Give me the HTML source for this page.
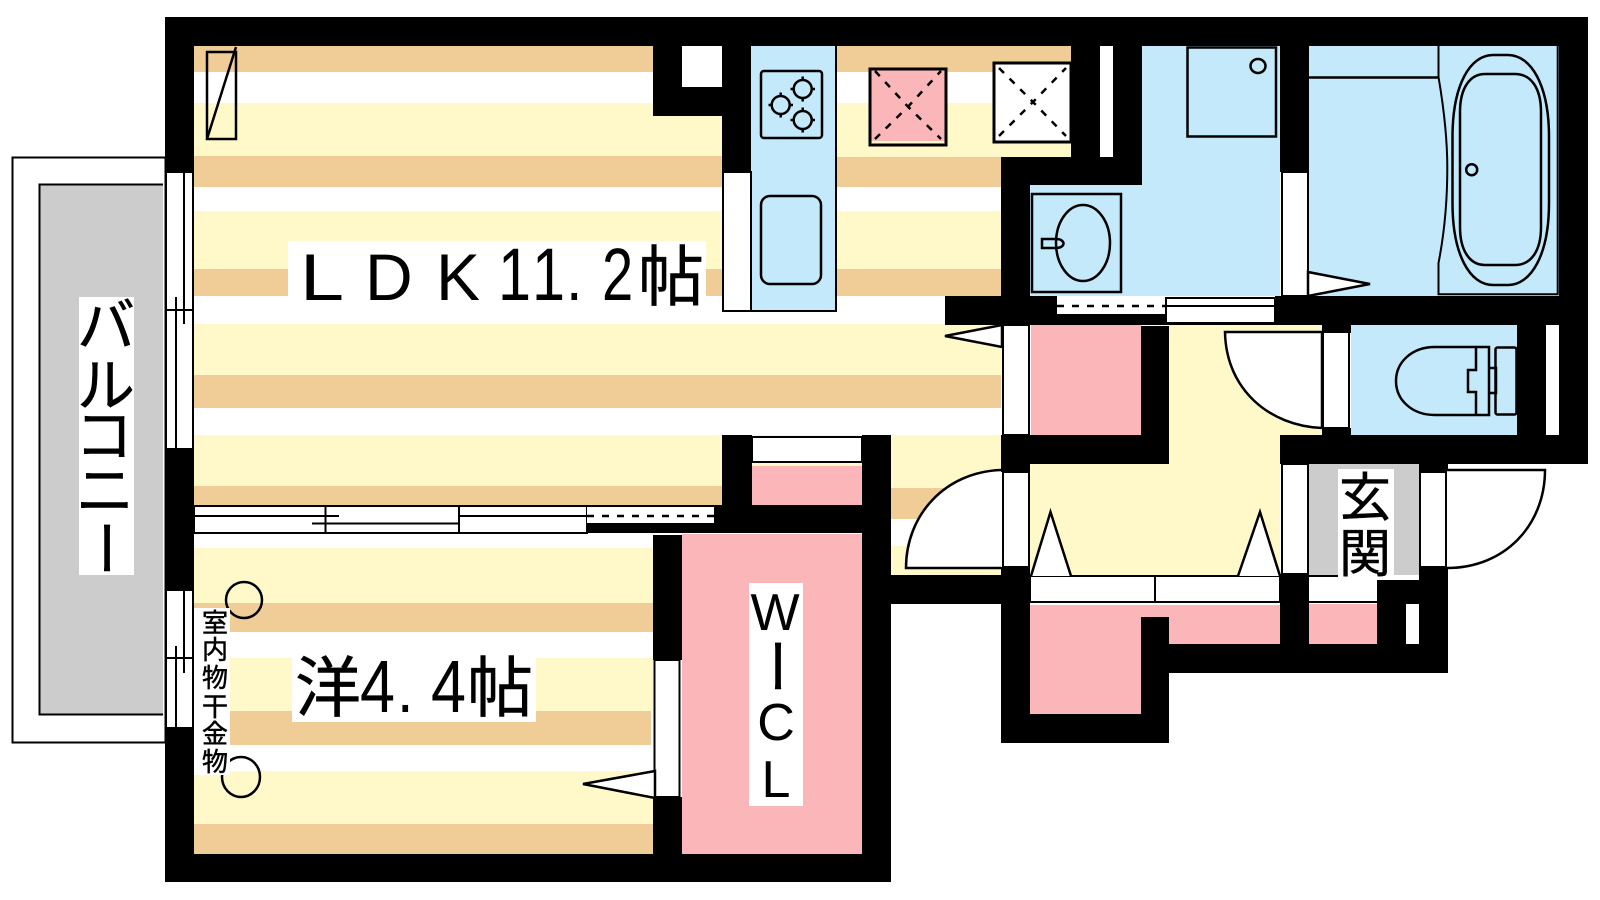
<!DOCTYPE html>
<html><head><meta charset="utf-8"><style>
html,body{margin:0;padding:0;background:#fff;width:1600px;height:900px;overflow:hidden}
svg{display:block}
text{font-family:"Liberation Sans","Noto Sans CJK JP",sans-serif;fill:#000}
.j{font-family:"Noto Sans CJK JP","Liberation Sans",sans-serif;stroke:#000;stroke-width:.5}
.l{stroke:#000;stroke-width:2;fill:none}
.w{stroke:#000;stroke-width:2;fill:#fff}
.n{stroke:#000;stroke-width:2.5;fill:none}
.d{stroke:#000;stroke-width:2.5;stroke-dasharray:7 8;fill:none}
.Y{fill:#fff9c9}.T{fill:#f0cc96}.B{fill:#c3e9fa}.P{fill:#fab6b8}.G{fill:#ccc}.K{fill:#000}.W{fill:#fff}
</style></head><body>
<svg width="1600" height="900" viewBox="0 0 1600 900" xmlns="http://www.w3.org/2000/svg">
<rect width="1600" height="900" fill="#fff"/>
<rect x="12.500" y="157.500" width="153" height="585" class="w"/>
<rect x="39" y="184" width="124" height="531" class="G"/>
<path d="M163 184.500H39.500V714.500H163" class="l"/>
<rect x="194" y="46" width="807" height="26" class="T"/>
<rect x="194" y="103" width="807" height="53" class="Y"/>
<rect x="194" y="156" width="807" height="31" class="T"/>
<rect x="194" y="211" width="807" height="58" class="Y"/>
<rect x="194" y="269" width="807" height="27" class="T"/>
<rect x="194" y="324" width="807" height="51" class="Y"/>
<rect x="194" y="375" width="807" height="33" class="T"/>
<rect x="194" y="435" width="807" height="51" class="Y"/>
<rect x="194" y="486" width="528" height="19" class="T"/>
<rect x="891" y="486" width="110" height="2" class="Y"/>
<rect x="891" y="488" width="110" height="31" class="T"/>
<rect x="891" y="546" width="110" height="29" class="Y"/>
<rect x="836" y="46" width="235" height="26" class="T"/>
<rect x="836" y="103" width="235" height="54" class="Y"/>
<rect x="194" y="548" width="459" height="55" class="Y"/>
<rect x="194" y="603" width="459" height="29" class="T"/>
<rect x="194" y="658" width="459" height="53" class="Y"/>
<rect x="194" y="711" width="457" height="34" class="T"/>
<rect x="194" y="771" width="459" height="53" class="Y"/>
<rect x="194" y="824" width="459" height="30" class="T"/>
<rect x="751" y="46" width="85" height="265" class="B"/>
<path d="M836 46V311H751" class="l"/>
<rect x="682" y="534" width="180" height="320" class="P"/>
<rect x="752" y="466" width="110" height="39" class="P"/>
<rect x="1142" y="46" width="138" height="139" class="B"/>
<rect x="1030" y="185" width="250" height="111" class="B"/>
<rect x="1309" y="46" width="250" height="250" class="B"/>
<rect x="1351" y="325" width="166" height="110" class="B"/>
<rect x="1031" y="325" width="110" height="110" class="P"/>
<rect x="1169" y="325" width="153" height="139" class="Y"/>
<rect x="1030" y="464" width="250" height="112" class="Y"/>
<rect x="1309" y="464" width="110" height="111" class="G"/>
<rect x="1030" y="605" width="250" height="39" class="P"/>
<rect x="1030" y="605" width="111" height="109" class="P"/>
<rect x="1309" y="604" width="68" height="40" class="P"/>
<g class="K">
<rect x="165" y="17" width="1423" height="29"/>
<rect x="165" y="17" width="29" height="155"/>
<rect x="165" y="449" width="29" height="141"/>
<rect x="165" y="728" width="29" height="154"/>
<rect x="165" y="854" width="726" height="28"/>
<rect x="862" y="435" width="29" height="447"/>
<rect x="722" y="435" width="30" height="70"/>
<rect x="714" y="505" width="148" height="28"/>
<rect x="587" y="523" width="130" height="10"/>
<rect x="653" y="535" width="29" height="125"/>
<rect x="653" y="797" width="29" height="85"/>
<rect x="653" y="46" width="29" height="70"/>
<rect x="653" y="87" width="69" height="29"/>
<rect x="722" y="46" width="29" height="126"/>
<rect x="1071" y="46" width="29" height="111"/>
<rect x="1113" y="46" width="29" height="139"/>
<rect x="1001" y="157" width="141" height="28"/>
<rect x="1001" y="157" width="29" height="168"/>
<rect x="945" y="296" width="112" height="29"/>
<rect x="1057" y="314" width="218" height="11"/>
<rect x="1275" y="296" width="313" height="29"/>
<rect x="1280" y="46" width="29" height="126"/>
<rect x="1141" y="326" width="28" height="138"/>
<rect x="1001" y="435" width="168" height="29"/>
<rect x="1001" y="464" width="29" height="8"/>
<rect x="1001" y="567" width="29" height="176"/>
<rect x="891" y="575" width="139" height="29"/>
<rect x="1001" y="714" width="168" height="29"/>
<rect x="1141" y="617" width="28" height="126"/>
<rect x="1169" y="644" width="279" height="29"/>
<rect x="1280" y="574" width="29" height="70"/>
<rect x="1280" y="435" width="308" height="29"/>
<rect x="1559" y="17" width="29" height="447"/>
<rect x="1517" y="325" width="29" height="110"/>
<rect x="1322" y="325" width="29" height="8"/>
<rect x="1322" y="428" width="29" height="7"/>
<rect x="1419" y="464" width="29" height="8"/>
<rect x="1419" y="567" width="29" height="106"/>
<rect x="1377" y="580" width="71" height="24"/>
<rect x="1377" y="580" width="29" height="93"/>
</g>
<rect x="682" y="46" width="40" height="41" fill="#fff"/>
<rect x="1100" y="46" width="13" height="111" fill="#fff"/>
<rect x="1546" y="325" width="13" height="110" fill="#fff"/>
<rect x="1406" y="604" width="13" height="40" fill="#fff"/>
<rect x="166" y="172" width="27" height="277" class="w"/>
<path d="M166 310H192M176 297V449M184 172V324" class="l"/>
<rect x="166" y="590" width="27" height="138" class="w"/>
<path d="M166 658H192M176 646V728M184 590V673" class="l"/>
<rect x="194" y="506" width="393" height="27" class="w"/>
<path d="M194 516H339M312 523.500H459M459 516H587M325.500 506V533M459 506V533M587 506V533" class="l"/>
<rect x="587" y="506" width="127" height="17" fill="#fff"/>
<path d="M587 516H714" class="d"/>
<path d="M587 506H714" class="l"/>
<rect x="752" y="437" width="110" height="25" class="w"/>
<rect x="723" y="172" width="28" height="139" class="w"/>
<rect x="654.500" y="660" width="25" height="137" class="w"/>
<rect x="1003" y="325" width="26" height="110" class="w"/>
<rect x="1003" y="472" width="26" height="95" class="w"/>
<rect x="1282" y="172" width="26" height="124" class="w"/>
<rect x="1323" y="332" width="26" height="96" class="w"/>
<rect x="1282" y="464" width="26" height="110" class="w"/>
<rect x="1420" y="472" width="26" height="95" class="w"/>
<rect x="1057" y="297" width="108" height="17" fill="#fff"/>
<path d="M1057 306H1165" class="d"/>
<rect x="1166" y="298" width="109" height="25" class="w"/>
<path d="M1166 306H1275" class="l"/>
<rect x="1030" y="576" width="250" height="26" class="w"/>
<path d="M1155 576V602" class="l"/>
<rect x="1309" y="576" width="68" height="26" fill="#fff"/>
<path d="M1309 576H1340M1309 602H1377" class="l"/>
<g class="n" style="fill:#fff">
<path d="M1308 272L1370 284L1308 296Z"/>
<path d="M945 336L1002 325V347Z"/>
<path d="M583 784L655 771V798Z"/>
<path d="M1031 576L1050.500 512L1071 576"/>
<path d="M1238 576L1260 512L1280 576"/>
</g>
<g class="n" style="fill:#fff">
<path d="M1225 332H1322V428C1270 426 1226 390 1225 332Z"/>
<path d="M1001 470C945 472 906 515 906 568H1001"/>
<path d="M1447 470H1545C1545 525 1505 568 1447 568"/>
</g>
<g class="n">
<rect x="761" y="71" width="61" height="67" rx="3"/>
<circle cx="780.700" cy="105" r="9"/>
<circle cx="802.700" cy="89" r="9"/>
<circle cx="802.700" cy="120" r="9"/>
<path d="M780.700 92.500V96M780.700 114V117.500M768.500 105H772M789.500 105H793M802.700 76.500V80M802.700 98V101.500M790.500 89H794M811.500 89H815M802.700 107.500V111M802.700 129V132.500M790.500 120H794M811.500 120H815"/>
<rect x="761" y="196" width="60" height="88" rx="9"/>
</g>
<rect x="870" y="69" width="76" height="76" fill="#fff9c9" stroke="#000" stroke-width="3"/>
<rect x="871.500" y="70.500" width="73" height="70.500" class="P"/>
<path d="M875 139L908 106.700L941 71M875 71L908 106.700L941 139" class="d"/>
<rect x="994" y="63" width="77" height="79" class="W" stroke="#000" stroke-width="3"/>
<path d="M999 136L1033 102L1066 68M999 68L1033 102L1066 136" class="d"/>
<rect x="207" y="52" width="29" height="87" class="n"/>
<path d="M207 139L236 47" class="n"/>
<g class="n">
<rect x="1187.500" y="47.500" width="88.500" height="89"/>
<ellipse cx="1258" cy="66" rx="7.500" ry="7"/>
<rect x="1032" y="194" width="89" height="98"/>
<ellipse cx="1083" cy="243" rx="27" ry="38"/>
<path d="M1056 239H1042V248H1056C1066 248 1066 239 1056 239Z"/>
<path d="M1309 77.500H1439"/>
<path d="M1438.500 46V77C1445 115 1447.300 145 1447.300 168C1447.300 200 1444 235 1438.500 263V294.300H1557.700V46" stroke-width="2"/>
<path d="M1493 55C1470 55 1452.500 85 1452.500 137V203C1452.500 255 1470 285 1493 285H1508C1531 285 1549 255 1549 203V137C1549 85 1531 55 1508 55Z"/>
<path d="M1485 74C1470 74 1460 88 1460 112V227C1460 251 1470 265 1485 265H1515C1531 265 1541 251 1541 227V112C1541 88 1531 74 1515 74Z"/>
<circle cx="1471.700" cy="169.700" r="5.500"/>
<path d="M1489 347H1435C1412 347 1396 362 1396 381C1396 400 1412 415 1435 415H1489V347Z"/>
<path d="M1476 347V370H1468V392H1476V415"/>
<path d="M1489 368H1496V393H1489"/>
<rect x="1495.500" y="347.500" width="21" height="67" rx="2"/>
</g>
<ellipse cx="244" cy="600" rx="18" ry="18" class="n"/>
<ellipse cx="241" cy="777" rx="19" ry="20" class="n"/>
<g fill="#fff">
<rect x="79" y="297" width="55" height="278"/>
<rect x="288" y="241" width="418" height="60"/>
<rect x="292" y="657" width="244" height="65"/>
<rect x="194" y="608" width="36" height="167"/>
<rect x="749" y="583" width="54" height="223"/>
<rect x="1338" y="469" width="56" height="111"/>
</g>
<g font-size="66">
<text transform="translate(300,300) scale(1.2,1)">L</text>
<text transform="translate(365,300)">D</text>
<text transform="translate(436,300)">K</text>
<text transform="translate(498,300) scale(.9,1.13)">1</text>
<text transform="translate(532,300) scale(.9,1.13)">1</text>
<text transform="translate(566,300) scale(.9,1)">.</text>
<text transform="translate(602,300) scale(.85,1.13)">2</text>
<text class="j" transform="translate(638,300)">帖</text>
</g>
<text class="j" transform="translate(295,711)" font-size="66">洋</text>
<g font-size="74">
<text transform="translate(360,712) scale(.85,1)">4</text>
<text transform="translate(397,712) scale(.9,1)" font-size="66">.</text>
<text transform="translate(431,712) scale(.85,1)">4</text>
</g>
<text class="j" transform="translate(467,711)" font-size="66">帖</text>
<g font-size="58" text-anchor="middle">
<text class="j" x="106" y="346">バ</text>
<text class="j" x="106" y="406">ル</text>
<text class="j" x="104" y="456">コ</text>
<text class="j" x="105" y="511">ニ</text>
<text class="j" transform="translate(85,548) rotate(90)">ー</text>
</g>
<g font-size="26" text-anchor="middle">
<text class="j" x="215" y="632">室</text>
<text class="j" x="215" y="659">内</text>
<text class="j" x="215" y="687">物</text>
<text class="j" x="215" y="716">干</text>
<text class="j" x="215" y="743">金</text>
<text class="j" x="215" y="771">物</text>
</g>
<g font-size="52" text-anchor="middle">
<text x="775" y="630">W</text>
<text class="j" font-size="58" transform="translate(756,666) rotate(90)">ー</text>
<text x="776" y="740">C</text>
<text x="776" y="797">L</text>
</g>
<g font-size="52" text-anchor="middle">
<text class="j" x="1365" y="516">玄</text>
<text class="j" x="1365" y="572">関</text>
</g>
</svg>
</body></html>
